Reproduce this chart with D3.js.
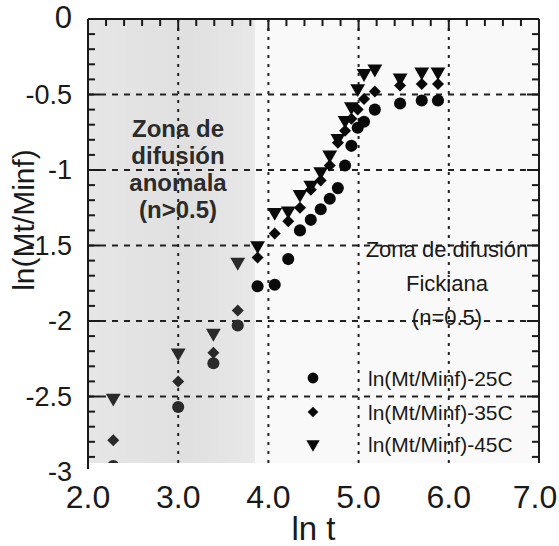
<!DOCTYPE html>
<html>
<head>
<meta charset="utf-8">
<script src="https://cdn.jsdelivr.net/npm/d3@7"></script>
<style>
  body { margin: 0; background: #fff; }
  svg { display: block; }
  text { font-family: 'Liberation Sans Narrow', 'Arial Narrow', 'Liberation Sans', Arial, sans-serif; fill: #1a1a1a; }
</style>
</head>
<body>
<div class="canvas"></div>
<script>
// ln t for every measurement
const lnT = [2.28, 3.0, 3.39, 3.66, 3.88, 4.07, 4.22, 4.35, 4.47, 4.58, 4.68, 4.77, 4.85, 4.92, 4.99, 5.06, 5.18, 5.46, 5.70, 5.88]
// ln(Mt/Minf) for each temperature
const y25 = [-2.96, -2.57, -2.28, -2.03, -1.77, -1.76, -1.59, -1.40, -1.33, -1.26, -1.19, -1.12, -0.97, -0.84, -0.72, -0.68, -0.60, -0.56, -0.54, -0.54]
const y35 = [-2.79, -2.40, -2.21, -1.93, -1.58, -1.42, -1.34, -1.25, -1.13, -1.07, -0.97, -0.82, -0.74, -0.66, -0.60, -0.53, -0.48, -0.44, -0.43, -0.43]
const y45 = [-2.51, -2.21, -2.08, -1.61, -1.50, -1.28, -1.27, -1.16, -1.10, -1.01, -0.90, -0.79, -0.67, -0.58, -0.46, -0.36, -0.33, -0.39, -0.35, -0.35]
const seriesNames = ['ln(Mt/Minf)-25C', 'ln(Mt/Minf)-35C', 'ln(Mt/Minf)-45C']
const xTicks = [2, 3, 4, 5, 6, 7]
const yTicks = [0, -0.5, -1, -1.5, -2, -2.5, -3]
const yTickLabels = ['0', '-0.5', '-1', '-1.5', '-2', '-2.5', '-3']
const zoneEnd = 3.85

const W = 559, H = 546
const plot = { left: 88, right: 539, top: 19, bottom: 472, visBottom: 463 }

const x = d3.scaleLinear().domain([2, 7]).range([plot.left, plot.right])
const y = d3.scaleLinear().domain([-3, 0]).range([plot.bottom, plot.top])

const svg = d3.select('.canvas').append('svg')
  .attr('width', W).attr('height', H)

const defs = svg.append('defs')
defs.append('clipPath').attr('id', 'clip')
  .append('rect')
  .attr('x', plot.left).attr('y', plot.top)
  .attr('width', plot.right - plot.left).attr('height', plot.visBottom - plot.top)

const grad = defs.append('linearGradient').attr('id', 'zone')
grad.append('stop').attr('offset', '0%').attr('stop-color', '#e6e6e6')
grad.append('stop').attr('offset', '60%').attr('stop-color', '#e0e0e0')
grad.append('stop').attr('offset', '100%').attr('stop-color', '#e8e8e8')

const g = svg.append('g').attr('clip-path', 'url(#clip)')

// background + anomalous diffusion zone
g.append('rect')
  .attr('x', plot.left).attr('y', plot.top)
  .attr('width', plot.right - plot.left).attr('height', plot.bottom - plot.top)
  .attr('fill', '#f9f9f9')
g.append('rect')
  .attr('x', x(2)).attr('y', plot.top)
  .attr('width', x(zoneEnd) - x(2)).attr('height', plot.bottom - plot.top)
  .attr('fill', 'url(#zone)')

//? GRID
g.selectAll('.hgrid').data(yTicks.filter(d => d < 0 && d > -3))
  .enter().append('line')
  .attr('x1', plot.left).attr('x2', plot.right)
  .attr('y1', d => y(d)).attr('y2', d => y(d))
  .attr('stroke', '#222').attr('stroke-width', 2)
  .attr('stroke-dasharray', '6,6')
g.selectAll('.vgrid').data(xTicks.filter(d => d > 2 && d < 7))
  .enter().append('line')
  .attr('x1', d => x(d)).attr('x2', d => x(d))
  .attr('y1', plot.top).attr('y2', plot.bottom)
  .attr('stroke', '#222').attr('stroke-width', 2)
  .attr('stroke-dasharray', '3,6')

//? ZONE LABELS
const leftNote = ['Zona de', 'difusión', 'anomala', '(n>0.5)']
g.append('text')
  .attr('text-anchor', 'middle')
  .attr('font-weight', 'bold')
  .attr('font-size', 24)
  .style('fill', '#2b2b2b')
  .selectAll('tspan').data(leftNote).enter().append('tspan')
  .attr('x', 178).attr('y', (d, i) => 137 + i * 27)
  .text(d => d)

const rightNote = ['Zona de difusión', 'Fickiana', '(n=0.5)']
g.append('text')
  .attr('text-anchor', 'middle')
  .attr('font-size', 22)
  .selectAll('tspan').data(rightNote).enter().append('tspan')
  .attr('x', 447).attr('y', (d, i) => 257 + i * 34)
  .text(d => d)

//? DATA POINTS
const shapes = [
  { sym: d3.symbolCircle, size: 115, rot: 0 },
  { sym: d3.symbolSquare, size: 72, rot: 45 },
  { sym: d3.symbolTriangle, size: 95, rot: 180 }
]
const seriesVals = [y25, y35, y45]

seriesVals.forEach((vals, s) => {
  const path = d3.symbol().type(shapes[s].sym).size(shapes[s].size)
  g.append('g').selectAll('path')
    .data(lnT.map((t, i) => ({ t, v: vals[i] })))
    .enter().append('path')
    .attr('d', path)
    .attr('transform', d => `translate(${x(d.t)},${y(d.v)}) rotate(${shapes[s].rot})`)
    .attr('fill', d => d.t < zoneEnd ? '#2a2a2a' : '#0a0a0a')
})

//? LEGEND
const legend = g.append('g')
seriesNames.forEach((name, s) => {
  const ly = [378, 412, 444][s]
  legend.append('path')
    .attr('d', d3.symbol().type(shapes[s].sym).size(shapes[s].size * 0.8))
    .attr('transform', `translate(313,${ly}) rotate(${shapes[s].rot})`)
    .attr('fill', '#0a0a0a')
  legend.append('text')
    .attr('x', 368).attr('y', ly + 8)
    .attr('font-size', 21)
    .text(name)
})

//? FRAME + TICKS
const frame = svg.append('g').attr('stroke', '#1a1a1a').attr('stroke-width', 2)
frame.append('line').attr('x1', plot.left).attr('x2', plot.left).attr('y1', plot.top).attr('y2', plot.visBottom + 6)
frame.append('line').attr('x1', plot.right).attr('x2', plot.right).attr('y1', plot.top).attr('y2', plot.visBottom)
frame.append('line').attr('x1', plot.left).attr('x2', plot.right).attr('y1', plot.top).attr('y2', plot.top)

const yMinor = d3.range(0, 30).map(i => -i / 10)
frame.selectAll('.yt').data(yMinor).enter().append('line')
  .attr('x1', plot.left).attr('x2', (d, i) => plot.left + (i % 5 === 0 ? 12 : 7))
  .attr('y1', d => y(d)).attr('y2', d => y(d))
frame.selectAll('.yr').data(yMinor).enter().append('line')
  .attr('x1', plot.right).attr('x2', (d, i) => plot.right - (i % 5 === 0 ? 12 : 7))
  .attr('y1', d => y(d)).attr('y2', d => y(d))
const xMinor = d3.range(0, 26).map(i => 2 + i / 5)
frame.selectAll('.xt').data(xMinor).enter().append('line')
  .attr('x1', d => x(d)).attr('x2', d => x(d))
  .attr('y1', plot.top).attr('y2', (d, i) => plot.top + (i % 5 === 0 ? 12 : 7))

//? TICK LABELS
svg.append('g').selectAll('text').data(yTicks).enter().append('text')
  .attr('x', 72).attr('y', d => y(d) + 9)
  .attr('text-anchor', 'end')
  .attr('font-size', (d, i) => i === 0 ? 31 : 27)
  .text((d, i) => yTickLabels[i])

svg.append('g').selectAll('text').data(xTicks).enter().append('text')
  .attr('x', d => x(d) - (d === 7 ? 4 : 0)).attr('y', 508)
  .attr('text-anchor', 'middle')
  .attr('font-size', 32)
  .text(d => d.toFixed(1))

//? AXIS TITLES
svg.append('text')
  .attr('x', x(4.5)).attr('y', 540)
  .attr('text-anchor', 'middle')
  .attr('font-size', 33)
  .text('ln t')
svg.append('text')
  .attr('transform', 'translate(34,220) rotate(-90)')
  .attr('text-anchor', 'middle')
  .attr('font-size', 30)
  .text('ln(Mt/Minf)')
</script>
</body>
</html>
